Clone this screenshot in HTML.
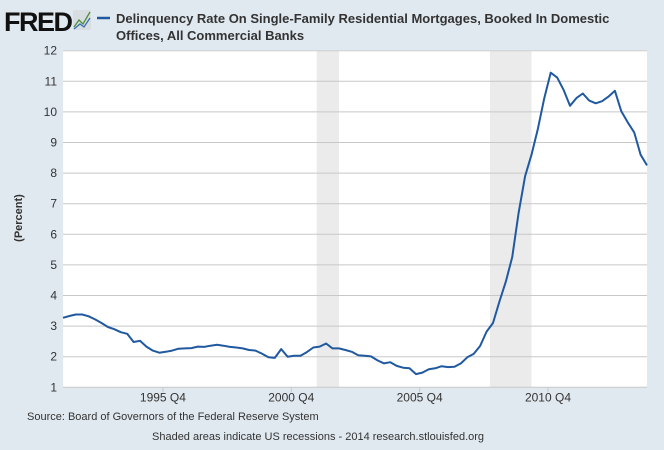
<!DOCTYPE html>
<html><head><meta charset="utf-8"><style>
body{margin:0;width:664px;height:445px;background:#e1e9f0;font-family:"Liberation Sans",sans-serif;overflow:hidden}
</style></head><body>
<svg width="664" height="445" xmlns="http://www.w3.org/2000/svg">
<rect width="664" height="445" fill="#e1e9f0"/>
<text x="4" y="31" font-size="27" font-weight="bold" fill="#111" font-family="Liberation Sans,sans-serif" letter-spacing="-1.5">FRED</text>
<g><rect x="73" y="10" width="18" height="20" rx="2" fill="#d8dde2"/><polyline points="74,27 79,20 83,24 90,12" fill="none" stroke="#4a8f3a" stroke-width="1.3"/><polyline points="74,29 80,24 84,27 90,18" fill="none" stroke="#3a6fb0" stroke-width="1.3"/></g>
<line x1="97" y1="18" x2="110" y2="18" stroke="#2059a0" stroke-width="2.5"/>
<text x="116" y="23" font-size="13" font-weight="bold" fill="#333">Delinquency Rate On Single-Family Residential Mortgages, Booked In Domestic</text>
<text x="116" y="40" font-size="13" font-weight="bold" fill="#333">Offices, All Commercial Banks</text>
<rect x="63" y="50" width="584" height="337" fill="#fff"/>
<g id="rec"></g><g id="grid"></g><g id="xt"></g>
<path id="line" fill="none" stroke="#2059a0" stroke-width="2" stroke-linejoin="round"/>
<text transform="translate(22,218) rotate(-90)" text-anchor="middle" font-size="11" font-weight="bold" fill="#333">(Percent)</text>
<text x="27" y="420" font-size="11" fill="#333">Source: Board of Governors of the Federal Reserve System</text>
<text x="152" y="440" font-size="11" fill="#333">Shaded areas indicate US recessions - 2014 research.stlouisfed.org</text>
</svg>
<script>
const values=[3.27,3.33,3.38,3.38,3.32,3.22,3.1,2.97,2.9,2.8,2.75,2.48,2.52,2.33,2.2,2.13,2.16,2.2,2.26,2.27,2.28,2.33,2.32,2.36,2.39,2.36,2.32,2.3,2.27,2.22,2.2,2.1,1.98,1.96,2.25,2.0,2.03,2.03,2.15,2.3,2.33,2.43,2.27,2.27,2.22,2.16,2.05,2.03,2.01,1.88,1.78,1.82,1.7,1.64,1.62,1.43,1.48,1.59,1.62,1.69,1.66,1.67,1.78,1.98,2.09,2.35,2.82,3.1,3.8,4.45,5.25,6.7,7.9,8.6,9.45,10.45,11.28,11.12,10.72,10.2,10.45,10.6,10.37,10.28,10.35,10.5,10.69,10.02,9.66,9.33,8.6,8.25];
const yTicks=[1,2,3,4,5,6,7,8,9,10,11,12];
const xTickLabels=["1995 Q4","2000 Q4","2005 Q4","2010 Q4"];
const xTickIdx=[19,39,59,79];
const recessions=[[40,43],[67,73]];
const NS="http://www.w3.org/2000/svg";
const L=63,R=647,T=50.7,B=387.3;
function x(i){return L+i*(R-L)/(values.length-1);}
function y(v){return B-(v-1)*(B-T)/11;}
const rec=document.getElementById('rec');
recessions.forEach(r=>{const e=document.createElementNS(NS,'rect');
e.setAttribute('x',x(r[0])-3);e.setAttribute('width',x(r[1])-x(r[0])+3);e.setAttribute('y',T);e.setAttribute('height',B-T);e.setAttribute('fill','#ebebeb');


rec.appendChild(e);});
const g=document.getElementById('grid');
yTicks.forEach(t=>{const l=document.createElementNS(NS,'line');
l.setAttribute('x1',L);l.setAttribute('x2',R);l.setAttribute('y1',y(t));l.setAttribute('y2',y(t));l.setAttribute('stroke','#c8c8c8');l.setAttribute('stroke-width','1');


g.appendChild(l);
const tx=document.createElementNS(NS,'text');tx.setAttribute('x',57);tx.setAttribute('y',y(t)+4);tx.setAttribute('text-anchor','end');tx.setAttribute('font-size','12');tx.setAttribute('fill','#333');tx.textContent=t;


g.appendChild(tx);});
const xt=document.getElementById('xt');
xTickLabels.forEach((s,k)=>{const px=x(xTickIdx[k])-22;
const l=document.createElementNS(NS,'line');l.setAttribute('x1',px);l.setAttribute('x2',px);l.setAttribute('y1',B);l.setAttribute('y2',B+5);l.setAttribute('stroke','#c8c8c8');


xt.appendChild(l);
const tx=document.createElementNS(NS,'text');tx.setAttribute('x',px);tx.setAttribute('y',B+14);tx.setAttribute('text-anchor','middle');tx.setAttribute('font-size','12');tx.setAttribute('fill','#333');tx.textContent=s;


xt.appendChild(tx);});
document.getElementById('line').setAttribute('d',values.map((v,i)=>(i?'L':'M')+x(i).toFixed(1)+','+y(v).toFixed(1)).join(''));
</script>
</body></html>
